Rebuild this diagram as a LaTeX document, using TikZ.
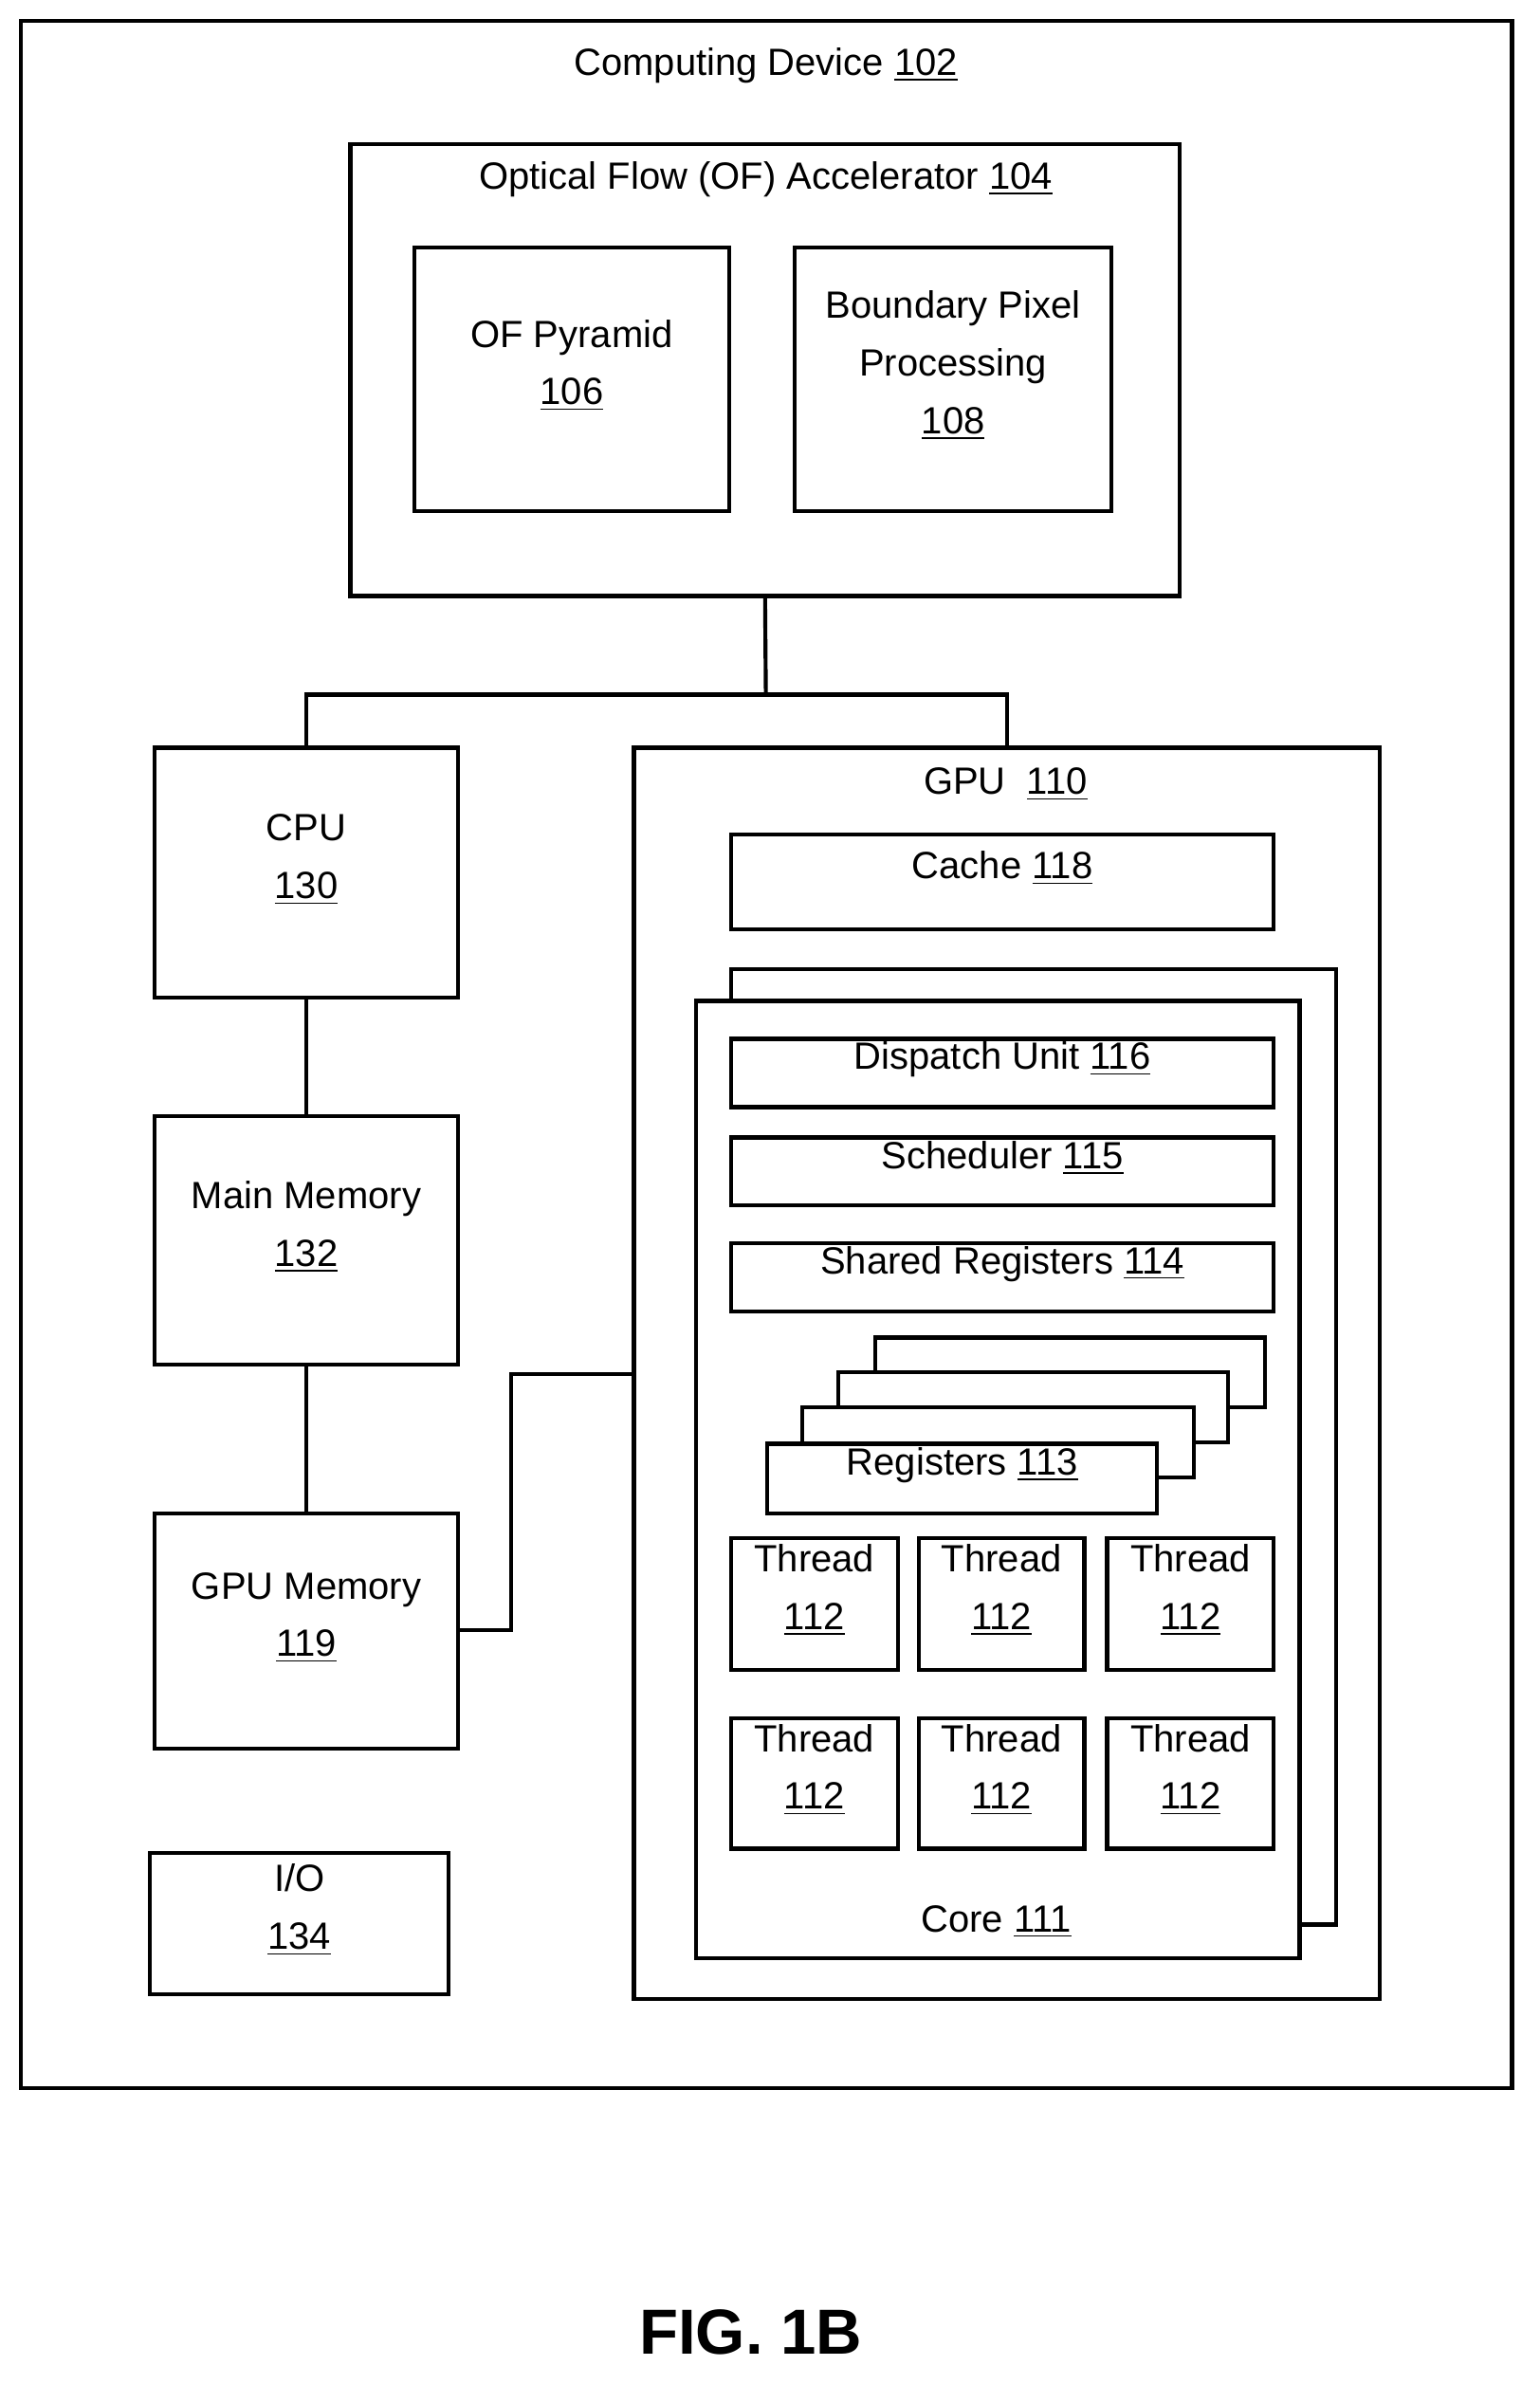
\documentclass[tikz,border=0pt]{standalone}
\usepackage{fontspec}
\setmainfont{Liberation Sans}
\usetikzlibrary{fit}
\newcommand{\myul}[1]{\underline{#1}}
\begin{document}
\begin{tikzpicture}[x=0.5pt,y=-0.5pt,
  box/.style={draw,line width=1.3pt,fill=white,inner sep=0pt,align=center,font=\fontsize{12.5}{19}\selectfont},
  txt/.style={inner sep=0pt,align=center,font=\fontsize{12.5}{19}\selectfont},
  ln/.style={line width=1.3pt}]
\useasboundingbox (0,0) rectangle (1015,1572);
\node[box,fit={(14,14)(997,1377)}] (dev) {};
\node[txt] (devt) at (505,43) {Computing Device \myul{102}};
\node[box,fit={(231,95)(778,393)}] (of) {};
\node[txt] (oft) at (505,118) {Optical Flow (OF) Accelerator \myul{104}};
\node[box,fit={(273,163)(481,337)}] (pyr) {OF Pyramid\\\myul{106}};
\node[box,fit={(524,163)(733,337)}] (bpp) {Boundary Pixel\\Processing\\\myul{108}};
\node[box,fit={(102,493)(302,658)}] (cpu) {CPU\\\myul{130}};
\node[box,fit={(102,736)(302,900)}] (mm) {Main Memory\\\myul{132}};
\node[box,fit={(102,998)(302,1153)}] (gm) {GPU Memory\\\myul{119}};
\node[box,fit={(99,1222)(296,1315)}] (io) {I/O\\\myul{134}};
\node[box,fit={(418,493)(910,1318)}] (gpu) {};
\node[txt] (gput) at (663,517) {GPU \ \myul{110}};
\node[box,fit={(482,550)(840,613)}] (cache) {Cache \myul{118}};
\node[box,fit={(482,639)(881,1269)}] (coreb) {};
\node[box,fit={(459,660)(857,1291)}] (core) {};
\node[txt] (coret) at (657,1267) {Core \myul{111}};
\node[box,fit={(482,685)(840,730)}] (disp) {Dispatch Unit \myul{116}};
\node[box,fit={(482,750)(840,795)}] (sch) {Scheduler \myul{115}};
\node[box,fit={(482,820)(840,865)}] (sr) {Shared Registers \myul{114}};
\node[box,fit={(577,882)(834,928)}] (r4) {};
\node[box,fit={(553,905)(810,951)}] (r3) {};
\node[box,fit={(529,928)(787,974)}] (r2) {};
\node[box,fit={(506,952)(763,998)}] (r1) {Registers \myul{113}};
\foreach \i/\xa/\xb in {1/482/592,2/606/715,3/730/840}{
  \node[box,fit={(\xa,1014)(\xb,1101)}] (ta\i) {Thread\\\myul{112}};
  \node[box,fit={(\xa,1133)(\xb,1219)}] (tb\i) {Thread\\\myul{112}};
}
\coordinate (j1) at (505,458);
\draw[ln] (of.south) -- (j1);
\draw[ln] (cpu.north) |- (j1) -| (gpu.north);
\draw[ln] (cpu) -- (mm);
\draw[ln] (mm) -- (gm);
\coordinate (k1) at (337,1075);
\coordinate (k2) at (337,906);
\draw[ln] (gm.east |- k1) -- (k1) -- (k2) -- (gpu.west |- k2);
\node[inner sep=0pt,font=\bfseries\fontsize{21}{25}\selectfont] (fig) at (495,1538) {FIG. 1B};
\end{tikzpicture}
\end{document}
